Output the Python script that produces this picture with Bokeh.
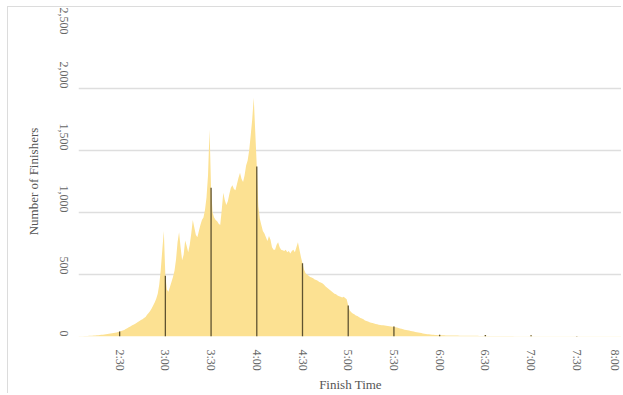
import math
from bokeh.plotting import figure
from bokeh.models import ColumnDataSource, FixedTicker, NumeralTickFormatter
from bokeh.embed import file_html
from bokeh.resources import INLINE

# ---- data: finishers per minute of finish time, starting at 2:03 (123 min) ----
start_minute = 123
finishers = [
    # 2:03 - 2:29
    2, 2, 3, 3, 4, 4, 5, 6, 6, 7, 8, 9, 10,
    11, 12, 14, 15, 17, 18, 20, 22, 24, 26, 28, 31, 33, 36,
    # 2:30 - 2:59
    40, 44, 48, 53, 60, 66, 75, 80, 88, 95, 100, 108, 116, 126, 134,
    140, 150, 158, 175, 190, 205, 225, 250, 275, 305, 345, 420, 540, 700, 850,
    # 3:00 - 3:29
    490, 380, 360, 400, 440, 480, 530, 620, 760, 840, 720, 615, 660, 775, 730,
    680, 740, 830, 940, 880, 820, 800, 850, 900, 940, 960, 1020, 1120, 1300, 1670,
    # 3:30 - 3:59
    1200, 1000, 960, 940, 930, 910, 900, 1020, 1160, 1100, 1060, 1090, 1150, 1200, 1220,
    1190, 1180, 1230, 1280, 1320, 1270, 1245, 1300, 1380, 1420, 1500, 1620, 1750, 1925, 1650,
    # 4:00 - 4:29
    1370, 1050, 950, 900, 850, 830, 800, 770, 810, 780, 720, 700, 700, 740, 760,
    720, 700, 695, 690, 700, 680, 690, 670, 690, 700, 680, 720, 760, 700, 640,
    # 4:30 - 4:59
    590, 540, 510, 500, 490, 480, 475, 470, 460, 455, 450, 440, 435, 430, 420,
    405, 395, 385, 375, 365, 355, 345, 340, 330, 325, 320, 315, 320, 310, 300,
    # 5:00 - 5:29
    250, 210, 195, 185, 180, 170, 165, 158, 150, 145, 140, 130, 125, 120, 115,
    110, 108, 105, 100, 98, 95, 93, 90, 90, 88, 86, 84, 82, 80, 78,
    # 5:30 - 5:59
    80, 75, 72, 68, 65, 62, 58, 55, 52, 50, 48, 45, 42, 40, 37,
    35, 32, 30, 28, 25, 23, 21, 19, 18, 16, 15, 14, 13, 12, 11,
    # 6:00 - 6:29
    15, 10, 10, 10, 9, 9, 9, 9, 8, 8, 8, 8, 8, 7, 7,
    7, 7, 7, 7, 6, 6, 6, 6, 6, 6, 6, 5, 5, 5, 5,
    # 6:30 - 6:59
    12, 5, 5, 5, 5, 5, 5, 4, 4, 4, 4, 4, 4, 4, 4,
    4, 4, 4, 4, 3, 3, 3, 3, 3, 3, 3, 3, 3, 3, 3,
    # 7:00 - 7:29
    10, 3, 3, 3, 3, 3, 3, 3, 2, 2, 2, 2, 2, 2, 2,
    2, 2, 2, 2, 2, 2, 2, 2, 2, 2, 2, 2, 2, 2, 2,
    # 7:30 - 8:00
    5, 2, 2, 2, 2, 2, 2, 2, 2, 2, 2, 2, 2, 2, 2,
    2, 2, 2, 2, 2, 2, 2, 2, 2, 2, 2, 2, 2, 2, 2, 4,
]

tick_minutes = [150, 180, 210, 240, 270, 300, 330, 360, 390, 420, 450, 480]
tick_labels = ["2:30", "3:00", "3:30", "4:00", "4:30", "5:00",
               "5:30", "6:00", "6:30", "7:00", "7:30", "8:00"]
y_ticks = [0, 500, 1000, 1500, 2000, 2500]

minutes = [start_minute + i for i in range(len(finishers))]
light = "#FCE192"
dark = "#5e5230"

area_src = ColumnDataSource(dict(x=minutes, y=finishers, base=[0] * len(minutes)))
half_hours = [m for m in minutes if m % 30 == 0]
half_vals = [v for m, v in zip(minutes, finishers) if m % 30 == 0]
bar_src = ColumnDataSource(dict(x=half_hours, top=half_vals))

p = figure(width=614, height=387, output_backend="svg", toolbar_location=None,
           x_range=(123, 480), y_range=(0, 2500),
           min_border_left=70, min_border_right=0, min_border_top=19,
           min_border_bottom=58)
p.styles = {"border-left": "1px solid #dcdcdc", "border-top": "1px solid #dcdcdc",
            "margin-left": "7px", "margin-top": "6px"}
p.outline_line_color = None

p.varea(x="x", y1="base", y2="y", source=area_src, fill_color=light)
p.vbar(x="x", top="top", width=0.85, source=bar_src, fill_color=dark,
       line_color=None)

serif = "Liberation Serif"
# x axis
p.xaxis.ticker = FixedTicker(ticks=tick_minutes)
p.xaxis.major_label_overrides = {m: l for m, l in zip(tick_minutes, tick_labels)}
p.xaxis.major_label_orientation = -math.pi / 2
p.xaxis.axis_label = "Finish Time"
# y axis
p.yaxis.ticker = FixedTicker(ticks=y_ticks)
p.yaxis.formatter = NumeralTickFormatter(format="0,0")
p.yaxis.major_label_orientation = -math.pi / 2
p.yaxis.axis_label = "Number of Finishers"

for ax in (p.xaxis, p.yaxis):
    ax.axis_line_color = None
    ax.major_tick_line_color = None
    ax.minor_tick_line_color = None
    ax.major_label_text_font = serif
    ax.major_label_text_font_size = "12px"
    ax.major_label_text_color = "#666666"
    ax.axis_label_text_font = serif
    ax.axis_label_text_font_size = "13px"
    ax.axis_label_text_font_style = "normal"
    ax.axis_label_text_color = "#555555"

p.xaxis.major_label_standoff = 7
p.xaxis.axis_label_standoff = 3
p.yaxis.major_label_standoff = 9
p.yaxis.axis_label_standoff = 12

p.xgrid.grid_line_color = None
p.ygrid.grid_line_color = "#dedede"
p.ygrid.grid_line_width = 1.5
p.ygrid.level = "underlay"

open("out.html", "w").write(file_html(p, INLINE))
